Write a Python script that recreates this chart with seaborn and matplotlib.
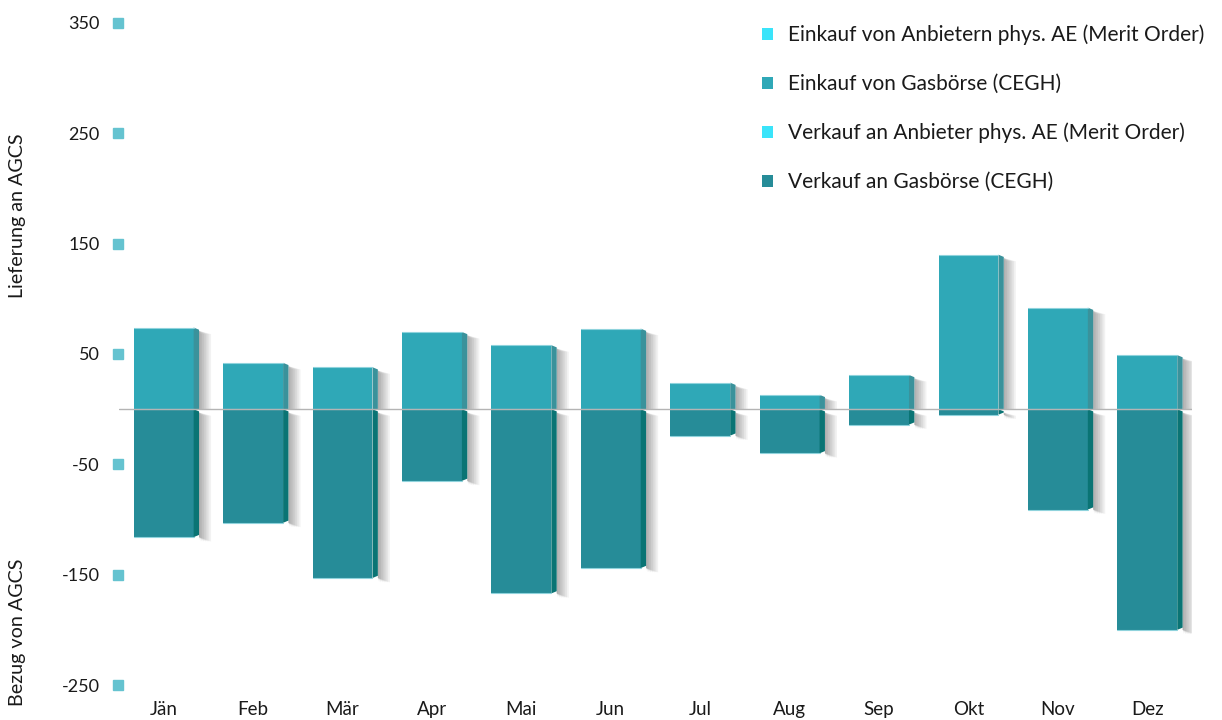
import matplotlib
matplotlib.use("Agg")
import matplotlib.pyplot as plt
import matplotlib.transforms as mtransforms
from matplotlib.patches import Polygon, Patch
import numpy as np
import pandas as pd
import seaborn as sns

# Daten
monate = ["Jän", "Feb", "Mär", "Apr", "Mai", "Jun", "Jul", "Aug", "Sep", "Okt", "Nov", "Dez"]
einkauf_merit = [0, 0, 0, 0, 0, 0, 0, 0, 0, 0, 0, 0]
einkauf_cegh = [74, 42, 38, 70, 58, 73, 24, 13, 31, 140, 92, 49]
verkauf_merit = [0, 0, 0, 0, 0, 0, 0, 0, 0, 0, 0, 0]
verkauf_cegh = [-116, -103, -153, -65, -167, -144, -24, -40, -14, -5, -91, -200]
y_ticks = [350, 250, 150, 50, -50, -150, -250]

legende = ["Einkauf von Anbietern phys. AE (Merit Order)",
           "Einkauf von Gasbörse (CEGH)",
           "Verkauf an Anbieter phys. AE (Merit Order)",
           "Verkauf an Gasbörse (CEGH)"]
farben = ["#3AE4FA", "#2FA8B7", "#3AE4FA", "#268C98"]
seiten = ["#2FB8C8", "#3A929B", "#2FB8C8", "#0A7474"]

sns.set_style("white")
plt.rcParams["font.family"] = ["Lato", "DejaVu Sans"]

fig = plt.figure(figsize=(12.22, 7.2), dpi=100)
ax = fig.add_axes([119 / 1222, 35 / 720, 1073 / 1222, 662 / 720])

breite = 0.67
serien = [einkauf_merit, einkauf_cegh, verkauf_merit, verkauf_cegh]
for werte, farbe, seite in zip(serien, farben, seiten):
    vorher = len(ax.patches)
    sns.barplot(x=monate, y=werte, order=monate, color=farbe, saturation=1,
                width=breite, linewidth=0, ax=ax, zorder=3)
    neue = ax.patches[vorher:]
    for p in neue:
        x0 = p.get_x()
        w = p.get_width()
        h = p.get_height()
        if h == 0:
            continue
        x1 = x0 + w
        y0 = p.get_y()
        y1 = y0 + h
        top, bot = max(y0, y1), min(y0, y1)
        d = 0.06
        dy = 2.0
        # weicher Schatten rechts
        for i in range(7):
            ax.add_patch(Polygon([[x1 + d, top - dy * 1.5], [x1 + d + 0.015 + i * 0.02, top - dy * 3],
                                  [x1 + d + 0.015 + i * 0.02, bot - (dy * 2 if bot < 0 else 0)],
                                  [x1 + d, bot]],
                                 closed=True, facecolor="#000000", alpha=0.05, lw=0, zorder=2))
        # Seitenfläche
        ax.add_patch(Polygon([[x1, top], [x1 + d, top - dy], [x1 + d, bot + (dy if bot < 0 else 0)], [x1, bot]],
                             closed=True, facecolor=seite, lw=0, zorder=3))
        # helle Kanten
        ax.plot([x0, x1], [top, top], color="#8FD3DC", lw=0.8, zorder=4)
        if bot < 0:
            ax.plot([x0, x1], [bot, bot], color="#8FD3DC", lw=0.8, zorder=4)

ax.axhline(0, color="#B4B4B4", lw=1, zorder=4)

ax.set_ylim(-250, 350)
ax.set_xlim(-0.5, 11.5)
ax.set_yticks(y_ticks)
ax.set_yticklabels([str(t) for t in y_ticks], fontsize=13, color="#1A1A1A")
ax.tick_params(axis="y", length=0, pad=14)
ax.tick_params(axis="x", length=0, pad=11.5, labelsize=13.5, labelcolor="#1A1A1A")
ax.set_xlabel("")
ax.set_ylabel("")
for s in ax.spines.values():
    s.set_visible(False)

# kleine Quadrate an den Achsenwerten
trans = mtransforms.blended_transform_factory(ax.transAxes, ax.transData)
ax.plot([-0.001] * len(y_ticks), y_ticks, "s", color="#65C3D0", markersize=7.5,
        transform=trans, clip_on=False, zorder=5)

fig.text(18 / 1222, 1 - 216 / 720, "Lieferung an AGCS", rotation=90, ha="center", va="center",
         fontsize=14.2, color="#1A1A1A")
fig.text(18 / 1222, 1 - 632 / 720, "Bezug von AGCS", rotation=90, ha="center", va="center",
         fontsize=14.2, color="#1A1A1A")

handles = [Patch(facecolor=f, edgecolor="none") for f in farben]
fig.legend(handles, legende, loc="upper left", bbox_to_anchor=(743 / 1222, 1 - 6 / 720),
           frameon=False, fontsize=15, handlelength=0.53, handleheight=0.53,
           handletextpad=0.72, labelspacing=1.38, labelcolor="#1A1A1A")

fig.savefig("out.png", dpi=100)
